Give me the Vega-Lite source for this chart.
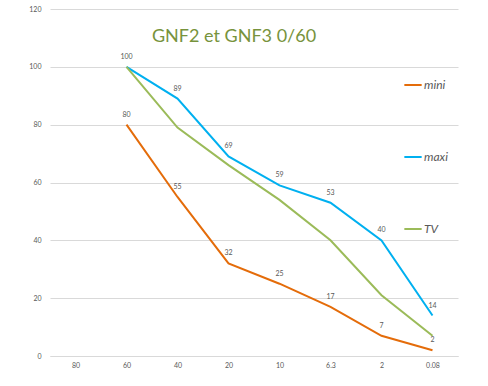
{
  "$schema": "https://vega.github.io/schema/vega-lite/v6.json",
  "width": 408,
  "height": 347,
  "autosize": {"type": "none"},
  "padding": {"left": 50, "top": 9, "right": 30, "bottom": 30},
  "background": "white",
  "config": {
    "view": {"stroke": null},
    "font": "Lato"
  },
  "title": {
    "text": "GNF2 et GNF3 0/60",
    "color": "#77933C",
    "fontSize": 18,
    "fontWeight": "normal",
    "font": "Lato",
    "anchor": "middle",
    "dx": -20,
    "offset": -41
  },
  "data": {
    "values": [
      {"x": "80", "serie": "mini", "v": null},
      {"x": "60", "serie": "mini", "v": 80},
      {"x": "40", "serie": "mini", "v": 55},
      {"x": "20", "serie": "mini", "v": 32},
      {"x": "10", "serie": "mini", "v": 25},
      {"x": "6.3", "serie": "mini", "v": 17},
      {"x": "2", "serie": "mini", "v": 7},
      {"x": "0.08", "serie": "mini", "v": 2},
      {"x": "60", "serie": "maxi", "v": 100},
      {"x": "40", "serie": "maxi", "v": 89},
      {"x": "20", "serie": "maxi", "v": 69},
      {"x": "10", "serie": "maxi", "v": 59},
      {"x": "6.3", "serie": "maxi", "v": 53},
      {"x": "2", "serie": "maxi", "v": 40},
      {"x": "0.08", "serie": "maxi", "v": 14},
      {"x": "60", "serie": "TV", "v": 100},
      {"x": "40", "serie": "TV", "v": 79},
      {"x": "20", "serie": "TV", "v": 66},
      {"x": "10", "serie": "TV", "v": 54},
      {"x": "6.3", "serie": "TV", "v": 40},
      {"x": "2", "serie": "TV", "v": 21},
      {"x": "0.08", "serie": "TV", "v": 7}
    ]
  },
  "encoding": {
    "x": {
      "field": "x",
      "type": "ordinal",
      "sort": ["80", "60", "40", "20", "10", "6.3", "2", "0.08"],
      "scale": {"type": "point", "padding": 0.5},
      "axis": {
        "title": null,
        "labelAngle": 0,
        "ticks": false,
        "domainColor": "#d9d9d9",
        "labelColor": "#595959",
        "labelFontSize": 7,
        "labelPadding": 5,
        "grid": false
      }
    },
    "y": {
      "field": "v",
      "type": "quantitative",
      "scale": {"domain": [0, 120]},
      "axis": {
        "title": null,
        "values": [0, 20, 40, 60, 80, 100, 120],
        "ticks": false,
        "domain": false,
        "gridColor": "#d9d9d9",
        "labelColor": "#595959",
        "labelFontSize": 7,
        "labelPadding": 9
      }
    }
  },
  "layer": [
    {
      "mark": {"type": "line", "strokeWidth": 2},
      "encoding": {
        "color": {
          "field": "serie",
          "type": "nominal",
          "sort": ["mini", "maxi", "TV"],
          "scale": {"domain": ["mini", "maxi", "TV"], "range": ["#E46C0A", "#00B0F0", "#9BBB59"]},
          "legend": {
            "title": null,
            "orient": "none",
            "legendX": 353,
            "legendY": 66,
            "symbolType": "stroke",
            "symbolSize": 300,
            "symbolStrokeWidth": 2,
            "labelFontSize": 12,
            "labelFontStyle": "italic",
            "labelColor": "#595959",
            "labelOffset": 1,
            "rowPadding": 56
          }
        }
      }
    },
    {
      "transform": [{"filter": "datum.serie !== 'TV' && datum.v != null"}],
      "mark": {"type": "text", "dy": -10, "fontSize": 7, "color": "#595959"},
      "encoding": {
        "text": {"field": "v", "type": "quantitative"}
      }
    }
  ]
}
